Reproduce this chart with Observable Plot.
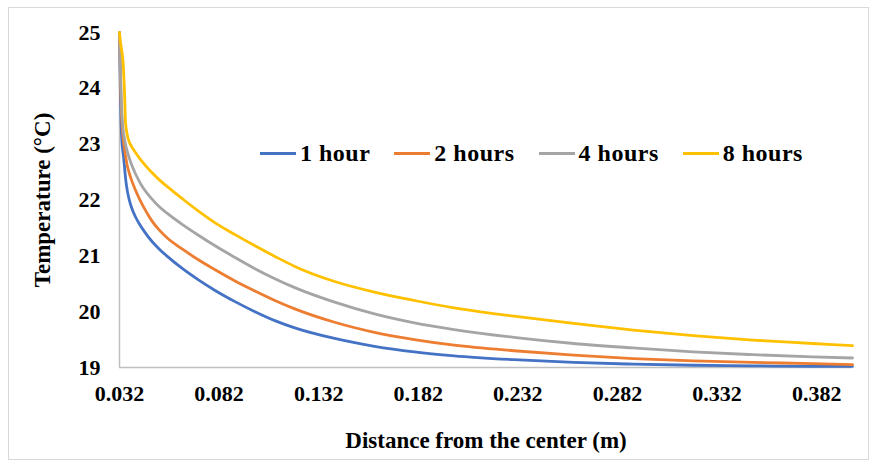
<!DOCTYPE html>
<html>
<head>
<meta charset="utf-8">
<script src="https://cdn.jsdelivr.net/npm/d3@7"></script>
<script src="https://cdn.jsdelivr.net/npm/@observablehq/plot@0.6"></script>
<style>
  body { margin: 0; background: #fff; }
  #wrap { position: relative; width: 876px; height: 468px; }
  #frame { position: absolute; left: 8px; top: 7px; width: 861px; height: 453px; border: 1px solid #d9d9d9; box-sizing: border-box; pointer-events: none; }
  #legend { position: absolute; left: 260px; top: 140px; display: flex; align-items: center;
            font-family: "Liberation Serif", "Times New Roman", serif; font-weight: bold; font-size: 24px; letter-spacing: 0.5px; color: #000; white-space: nowrap; }
  #legend .item { display: flex; align-items: center; margin-right: 24px; }
  #legend .sw { display: inline-block; width: 36px; height: 3px; margin-right: 4px; }
  svg text { font-family: "Liberation Serif", "Times New Roman", serif; }
  g[aria-label="x-axis label"] text, g[aria-label="y-axis label"] text { font-size: 23px; }
</style>
</head>
<body>
<div id="wrap">
  <div id="chart"></div>
  <div id="legend"></div>
  <div id="frame"></div>
</div>
<script>
const seriesNames = ["1 hour", "2 hours", "4 hours", "8 hours"];
const seriesColors = ["#4472C4", "#ED7D31", "#A5A5A5", "#FFC000"];

const distance = [0.032, 0.0324, 0.0328, 0.0332, 0.0336, 0.034, 0.0345, 0.035, 0.036, 0.037, 0.038, 0.040, 0.042, 0.044, 0.048, 0.052, 0.056, 0.064, 0.072, 0.080, 0.090, 0.100, 0.110, 0.120, 0.140, 0.160, 0.180, 0.200, 0.230, 0.260, 0.290, 0.320, 0.350, 0.380, 0.400];

const temp1h = [25, 24.0, 23.4, 23.05, 22.9, 22.78, 22.6, 22.4, 22.15, 21.99, 21.87, 21.7, 21.57, 21.46, 21.27, 21.12, 20.99, 20.76, 20.56, 20.38, 20.18, 20.0, 19.84, 19.71, 19.52, 19.38, 19.28, 19.21, 19.14, 19.09, 19.06, 19.04, 19.03, 19.02, 19.02];
const temp2h = [25, 24.3, 23.75, 23.4, 23.2, 23.05, 22.92, 22.8, 22.6, 22.47, 22.36, 22.18, 22.02, 21.88, 21.64, 21.46, 21.32, 21.11, 20.92, 20.75, 20.55, 20.37, 20.2, 20.05, 19.81, 19.63, 19.5, 19.4, 19.3, 19.22, 19.16, 19.12, 19.09, 19.07, 19.05];
const temp4h = [25, 24.4, 23.9, 23.55, 23.35, 23.2, 23.1, 23.0, 22.86, 22.74, 22.64, 22.47, 22.33, 22.21, 22.03, 21.88, 21.76, 21.55, 21.36, 21.18, 20.97, 20.77, 20.59, 20.43, 20.17, 19.96, 19.8, 19.68, 19.54, 19.43, 19.35, 19.28, 19.23, 19.19, 19.17];
const temp8h = [25, 24.85, 24.75, 24.65, 24.55, 24.35, 23.95, 23.4, 23.15, 23.03, 22.96, 22.85, 22.75, 22.66, 22.5, 22.36, 22.24, 22.01, 21.79, 21.59, 21.38, 21.18, 20.99, 20.81, 20.54, 20.35, 20.2, 20.07, 19.92, 19.79, 19.67, 19.57, 19.49, 19.43, 19.39];

const xTicks = [0.032, 0.082, 0.132, 0.182, 0.232, 0.282, 0.332, 0.382];
const yTicks = [19, 20, 21, 22, 23, 24, 25];

const allTemps = [temp1h, temp2h, temp4h, temp8h];
const rows = [];
seriesNames.forEach((s, i) => {
  distance.forEach((d, j) => rows.push({series: s, distance: d, temp: allTemps[i][j]}));
});

const chart = Plot.plot({
  width: 876,
  height: 468,
  marginLeft: 119,
  marginRight: 24,
  marginTop: 32,
  marginBottom: 101,
  style: { fontFamily: "Liberation Serif, Times New Roman, serif", fontSize: "22px", fontWeight: "bold", color: "#000", background: "transparent" },
  x: { domain: [distance[0], distance[distance.length - 1]] },
  y: { domain: [yTicks[0], yTicks[yTicks.length - 1]] },
  color: { domain: seriesNames, range: seriesColors },
  marks: [
    Plot.axisY({ ticks: yTicks, tickSize: 0, tickPadding: 19, tickFormat: d => String(d),
      label: "Temperature (°C)", labelAnchor: "center", labelArrow: "none", labelOffset: 86 }),
    Plot.axisX({ ticks: xTicks, tickSize: 0, tickPadding: 18, tickFormat: d3.format(".3f"),
      label: "Distance from the center (m)", labelAnchor: "center", labelArrow: "none", labelOffset: 80 }),
    Plot.ruleX([xTicks[0]], { stroke: "#bfbfbf", strokeWidth: 1.5 }),
    Plot.ruleY([yTicks[0]], { stroke: "#bfbfbf", strokeWidth: 1.5 }),
    Plot.line(rows, { x: "distance", y: "temp", z: "series", stroke: "series", strokeWidth: 2.8, curve: "monotone-x" })
  ]
});
document.getElementById("chart").appendChild(chart);

const legend = document.getElementById("legend");
seriesNames.forEach((s, i) => {
  const item = document.createElement("div");
  item.className = "item";
  const sw = document.createElement("span");
  sw.className = "sw";
  sw.style.background = seriesColors[i];
  const t = document.createElement("span");
  t.textContent = s;
  item.appendChild(sw);
  item.appendChild(t);
  legend.appendChild(item);
});
</script>
</body>
</html>
